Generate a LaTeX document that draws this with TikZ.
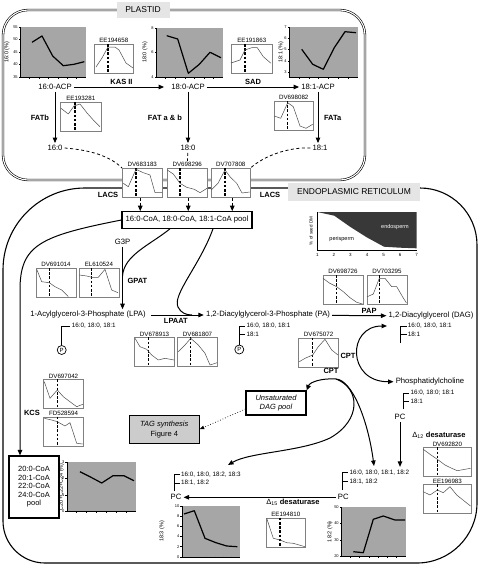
\documentclass[tikz,border=0pt]{standalone}
\usepackage{fontspec}
\setmainfont{Liberation Sans}
\usetikzlibrary{arrows.meta}

\tikzset{
  lbl/.style={font=\fontsize{7.7}{9}\selectfont, inner sep=2pt},
  enz/.style={font=\fontsize{7.5}{9}\selectfont\bfseries, inner sep=1.5pt},
  acyl/.style={font=\fontsize{6.3}{7}\selectfont, inner sep=0pt, anchor=west},
  exlbl/.style={font=\fontsize{6.2}{7}\selectfont, inner sep=1pt, anchor=south},
  exframe/.style={draw=black!50, line width=0.5pt, fill=white, inner sep=0pt, anchor=north west, minimum height=29pt},
  exdash/.style={line width=1.1pt, dash pattern=on 2.6pt off 1.6pt},
  excurve/.style={black!70, line width=0.5pt, line join=round},
  chartfill/.style={fill=black!35},
  chartline/.style={line width=1.2pt, line join=round},
  ticklbl/.style={font=\fontsize{4}{4}\selectfont, inner sep=0.6pt},
  ylbl/.style={font=\fontsize{5.5}{6}\selectfont, inner sep=0pt, rotate=90},
  conn/.style={line width=1pt},
  arr/.style={conn, -{Triangle[length=5.5pt,width=4.5pt]}},
  dasharr/.style={arr, dash pattern=on 3pt off 2pt},
  dashlink/.style={line width=0.8pt, dash pattern=on 3pt off 2.5pt},
  poolbox/.style={draw, line width=1.1pt, fill=white, inner sep=0pt, font=\fontsize{7.7}{9}\selectfont},
  labelbox/.style={fill=black!10, inner sep=0pt, font=\fontsize{8.5}{10}\selectfont},
  acylline/.style={line width=0.9pt},
  pcirc/.style={draw, circle, line width=0.7pt, minimum size=9pt, inner sep=0pt, font=\fontsize{6}{6}\selectfont},
  plastid/.style={double, double distance=1.1pt, line width=0.6pt},
  erline/.style={line width=1.1pt},
}

\newcommand{\exprbox}[7]{% name, x, y, width, label, dash x, profile
  \node[exframe, minimum width=#4pt] (#1) at (#2,#3) {};
  \node[exlbl] (#1-l) at (#1.north) {#5};
  \draw[exdash] (#6,#3) -- (#6,#3+29);
  \draw[excurve] plot coordinates {#7};
}

\newcommand{\greychart}[9]{% name, x, y, w, h, y label, label x, ticks, profile
  \fill[chartfill] (#2,#3) rectangle ++(#4,#5);
  \draw[line width=0.4pt] (#2,#3) -- (#2,#3+#5) -- (#2+#4,#3+#5);
  \foreach \v/\ty in {#8}
    \draw[line width=0.4pt] (#2,\ty) -- ++(-1.5,0) node[ticklbl, anchor=east] {\v};
  \foreach \i in {1,...,6}
    \draw[line width=0.4pt] (#2+\i*#4/7,#3+#5) -- ++(0,1.5);
  \draw[chartline] plot coordinates {#9};
  \node[ylbl] (#1) at (#7,#3+#5/2) {#6};
}

\newcommand{\acyl}[6]{% name, x, top y, bottom y, first chain, second chain
  \coordinate (#1) at (#2,#3);
  \draw[acylline] (#2,#4) -- (#2,#3) -- ++(6,0);
  \node[acyl] (#1-a) at (#2+7,#3) {#5};
  \draw[acylline] (#2,#3+8.5) -- ++(6,0);
  \node[acyl] (#1-b) at (#2+7,#3+8.5) {#6};
}

\begin{document}
\begin{tikzpicture}[x=1pt,y=-1pt]
\useasboundingbox (0,0) rectangle (479,565);

% compartments
\draw[plastid, rounded corners=25pt] (3,10) rectangle (365,180);
\draw[erline] (130,188) -- (420,188) .. controls (451.5,188) and (477,213.5) .. (477,245)
  -- (477,503) .. controls (477,536.1) and (450.1,563) .. (417,563)
  -- (45,563) .. controls (21.8,563) and (3,544.2) .. (3,521)
  -- (3,270) .. controls (3,224.7) and (39.7,188) .. (85,188) -- (130,188);
\node[labelbox, minimum width=53pt, minimum height=16pt] (plastidlbl) at (143,10) {PLASTID};
\node[labelbox, minimum width=132pt, minimum height=18pt] (erlbl) at (354,192) {ENDOPLASMIC RETICULUM};

% plastid
\greychart{c160}{20}{27}{66}{50}{16:0 (\%)}{7}{55/27,50/39.5,45/52,40/64.5,35/77}{(32,42.3) (42,36) (52.7,56) (63.3,65.7) (74,64.3) (84.3,61.7)}
\greychart{c180}{156}{28}{67}{49}{18:0 (\%)}{145}{8/28,6/52.5,4/77}{(166.7,35.7) (177.7,39) (188.3,73.3) (199.3,64.3) (210,52.3) (221,57.7)}
\greychart{c181}{289}{27}{69}{50}{18:1 (\%)}{281}{7/27.3,6/38.3,5/49.3,4/60.7,3/71.7}{(301.7,49.3) (312.7,64.3) (323.3,69.3) (334.3,47.7) (345,31.7) (356,32.7)}

\exprbox{ee194658}{94}{44}{39}{EE194658}{108}{(96,67) (102,58) (108,47) (115,47) (119,50) (126,63) (133,68)}
\exprbox{ee191863}{231}{44}{41}{EE191863}{245}{(231,63) (240,60) (245,50) (251.7,47.7) (257.3,47.7) (263.3,56.7) (271,63.3)}
\exprbox{ee193281}{60}{102}{41}{EE193281}{75}{(61,108.3) (68.3,114) (74,106) (80,104) (87.3,113.3) (93.3,120) (100,126.7)}
\exprbox{dv698082}{274}{101}{39}{DV698082}{287.7}{(274.3,116) (280.7,118.3) (287.7,102.7) (293.3,106.7) (300,126) (306,128.3) (312.7,124.3)}

\node[lbl] (acp160) at (55,87) {16:0-ACP};
\node[lbl] (acp180) at (188,87) {18:0-ACP};
\node[lbl] (acp181) at (318,87) {18:1-ACP};
\node[lbl] (ffa160) at (55,148) {16:0};
\node[lbl] (ffa180) at (188,148) {18:0};
\node[lbl] (ffa181) at (320,148) {18:1};

\draw[arr, shorten >=5pt] (acp160) -- (acp180) node[enz, midway, above] (kas) {KAS II};
\draw[arr] (acp180) -- (acp181) node[enz, midway, above] (sad) {SAD};
\draw[arr] (acp160) -- (acp160 |- ffa160.north) node[enz, midway, left=4pt] (fatb) {FATb};
\draw[arr] (acp180) -- (acp180 |- ffa180.north) node[enz, midway, left=4pt] (fatab) {FAT a \& b};
\draw[arr] (acp181) -- (acp181 |- ffa181.north) node[enz, midway, right=4pt] (fata) {FATa};

% export to the ER
\exprbox{dv683183}{122}{168}{40}{DV683183}{136}{(123.3,183.3) (128.3,186.7) (136,169.3) (143.3,172.7) (150,175) (155,192.7) (162,192.7)}
\exprbox{dv698296}{167}{168}{40}{DV698296}{180}{(167.3,170) (173.3,174) (180,183.3) (186.7,187.3) (194.3,189.3) (200,192.7) (207,188.3)}
\exprbox{dv707808}{211}{168}{39}{DV707808}{225}{(211.3,190) (218,183.3) (225,170) (230,176.7) (236.7,183.3) (242,193) (249.7,192)}

\draw[dashlink] (ffa160.east) .. controls (90,150) and (110,156) .. (dv683183.north west);
\draw[dashlink] (ffa180) -- (dv698296-l);
\draw[dashlink] (ffa181.west) .. controls (290,147) and (265,155) .. (dv707808.north east);

\node[enz] (lacs1) at (108,195) {LACS};
\node[enz] (lacs2) at (270,195) {LACS};

\node[poolbox, minimum width=130pt, minimum height=16.5pt] (pool) at (187,220) {16:0-CoA, 18:0-CoA, 18:1-CoA pool};
\draw[dasharr] ([xshift=-2pt]dv683183.south) -- ([xshift=-2pt]dv683183.south |- pool.north);
\draw[dasharr] ([xshift=1pt]dv698296.south) -- ([xshift=1pt]dv698296.south |- pool.north);
\draw[dasharr] ([xshift=1.5pt]dv707808.south) -- ([xshift=1.5pt]dv707808.south |- pool.north);

% seed development
\fill[black!78] (317.3,212) -- (334.3,215.7) -- (350,226.7) -- (366.7,237.3) -- (384,246.7) -- (400,247.7) -- (416.7,248.3) -- (416.7,212) -- cycle;
\draw[line width=0.4pt] (317.3,212) -- (317.3,250) -- (416.7,250);
\foreach \d [count=\i from 0] in {1,...,7}
  \node[font=\fontsize{4.5}{5}\selectfont, inner sep=0pt] (ax\d) at (317.3+\i*16.57,254.5) {\d};
\node[ylbl, font=\fontsize{4.5}{5}\selectfont] (dmlbl) at (311,231) {\% of seed DM};
\node[font=\fontsize{5.5}{6}\selectfont, text=white, inner sep=0pt] (endolbl) at (395,227) {endosperm};
\node[font=\fontsize{5.5}{6}\selectfont, inner sep=0pt] (perilbl) at (341.7,239) {perisperm};

% Kennedy pathway
\node[lbl] (g3p) at (122.5,242) {G3P};
\node[lbl] (lpa) at (88,315) {1-Acylglycerol-3-Phosphate (LPA)};
\node[lbl] (pa) at (268,315) {1,2-Diacylglycerol-3-Phosphate (PA)};
\node[lbl] (dag) at (431,316) {1,2-Diacylglycerol (DAG)};
\node[lbl] (pc) at (430,381.7) {Phosphatidylcholine};

\coordinate (gj) at (122.5,276);
\coordinate (lj) at (192,315);
\draw[arr] (g3p) -- (g3p |- lpa.north) node[enz, pos=0.55, right=3pt] (gpat) {GPAT};
\draw[conn] ([xshift=-17pt]pool.south) .. controls (150,245) and (124,255) .. (gj);
\draw[arr, shorten <=3pt] (lpa) -- (pa) node[enz, midway, below=1pt] (lpaat) {LPAAT};
\draw[conn] ([xshift=26pt]pool.south) .. controls (200,265) and (172,295) .. (178,307) .. controls (181,313) and (186,315) .. (lj);
\draw[arr] (pa) -- (dag) node[enz, pos=0.68, above=0pt] (pap) {PAP};

\exprbox{dv691014}{35.7}{268}{40}{DV691014}{49.3}{(36.7,269.3) (41.7,281.7) (49.3,282.7) (55,286.7) (61.7,290) (68.3,296.5)}
\exprbox{el610524}{78.7}{268}{40}{EL610524}{91.7}{(79.3,275) (86.7,276) (91.7,277.3) (98.3,277.3) (105,269.3) (111.7,290) (118,292.7)}
\exprbox{dv698726}{322.7}{275}{40}{DV698726}{336.7}{(323,278.3) (329.3,283) (336.7,286.7) (343.3,291.7) (350,297.7) (356.7,302.3) (362.5,304)}
\exprbox{dv703295}{366.7}{275}{40}{DV703295}{379.3}{(367.3,296.7) (373.3,294) (379.3,278.3) (385,278.3) (391.7,286.7) (396.7,286.7) (403.3,298) (406.5,303)}
\exprbox{dv678913}{134.3}{337.3}{40}{DV678913}{148.3}{(135,338.3) (140,346.7) (146.7,349.3) (151.7,355) (158.3,360) (165,358.3) (174,360)}
\exprbox{dv681807}{177.3}{337.3}{40}{DV681807}{190.7}{(178.3,351.7) (185,345) (190.7,338.3) (198.3,345) (205,353.3) (210,365) (217,362.7)}
\exprbox{dv675072}{298.3}{337.7}{40}{DV675072}{312.7}{(299.3,361.7) (305,358.3) (312.7,355) (318.3,346.7) (325,339.3) (331.7,350) (338,355)}

% acyl chains
\node[pcirc] (lpap) at (61.7,350) {P};
\draw[acylline] (lpap) -- (61.7,326) -- ++(8,0);
\node[acyl] (lpafa) at (71.7,326) {16:0, 18:0, 18:1};
\node[pcirc] (pap-c) at (239.3,349.5) {P};
\acyl{paF}{239.3}{326}{345}{16:0, 18:0, 18:1}{18:1}
\acyl{dagF}{400.7}{326}{343}{16:0, 18:0, 18:1}{18:1}
\acyl{pc1F}{403.3}{393}{409}{16:0, 18:0; 18:1}{18:1}
\acyl{pc2F}{342.3}{472.7}{490}{16:0, 18:0, 18:1, 18:2}{18:1, 18:2}
\acyl{pc3F}{174}{474.5}{491}{16:0, 18:0, 18:2, 18:3}{18:1, 18:2}
\node[lbl] (pc1) at (400,417) {PC};
\node[lbl] (pc2) at (343.3,497.3) {PC};
\node[lbl] (pc3) at (176,497.3) {PC};

% CPT
\coordinate (cptin) at (387,326);
\coordinate (crest) at (336,379);
\coordinate (pc2in) at (374,466);
\coordinate (pc3in) at (228,465);
\draw[conn, {Triangle[length=5.5pt,width=4.5pt]}-{Triangle[length=5.5pt,width=4.5pt]}] (cptin) .. controls (347,326) and (347,382) .. (pc.west);
\node[enz] (cpt1) at (348,356) {CPT};
\node[enz] (cpt2) at (331,371) {CPT};
\node[poolbox, minimum width=60pt, minimum height=24pt, align=center, font=\fontsize{7.5}{9}\selectfont\itshape] (dagpool) at (276,403) {Unsaturated\\DAG pool};
\node[draw, line width=0.9pt, fill=black!20, minimum width=70pt, minimum height=28pt, align=center, inner sep=0pt, font=\fontsize{7.5}{10}\selectfont] (tag) at (164.3,429.2) {\textit{TAG synthesis}\\Figure 4};
\draw[conn, {Triangle[length=5.5pt,width=4.5pt]}-{Triangle[length=5.5pt,width=4.5pt]}] (dagpool.north east) .. controls (310,382) and (322,378) .. (crest) .. controls (352,380) and (368,420) .. (pc2in);
\draw[arr] (crest) .. controls (360,388) and (362,420) .. (330,438) .. controls (300,452) and (250,452) .. (pc3in);
\draw[line width=0.7pt, dotted, -{Triangle[length=4.5pt,width=3.5pt]}] ([yshift=-6pt]dagpool.west) -- (tag.east);

% desaturases
\draw[arr, shorten >=3pt] (pc1) -- (pc1 |- pc2F-a.north);
\node[enz] (d12) at (439,435) {{\mdseries Δ\textsubscript{12}} desaturase};
\exprbox{dv692820}{423.3}{447.3}{47.7}{DV692820}{437.3}{(423.3,449.3) (430,454.3) (437.3,459.3) (445,465) (451.7,468.3) (457.3,470.7) (470.5,468.3)}
\exprbox{ee196983}{423.3}{484.3}{47.7}{EE196983}{437.3}{(423.3,491.7) (430,495) (437.3,490) (443.3,492.7) (450,486.7) (456.7,495) (470.5,506)}
\draw[arr] (pc2) -- (pc3);
\node[enz] (d15) at (293,502) {{\mdseries Δ\textsubscript{15}} desaturase};
\exprbox{ee194810}{266}{517.7}{39}{EE194810}{280}{(266.7,518.3) (273.3,538.3) (280,540) (286.7,542.7) (293.3,543.3) (305,546.7)}
\greychart{c182}{341}{507.3}{64.7}{48.7}{18:2 (\%)}{330}{50/507.3,40/523.5,30/539.8,20/556}{(353.3,551.7) (363.3,552.7) (373.3,519.3) (383.3,516) (395,520) (405,520)}
\greychart{c183}{181.7}{506}{58.3}{50.7}{18:3 (\%)}{162}{10/506,8/516.1,6/526.3,4/536.4,2/546.6,0/556.7}{(184,514) (194.3,510.7) (205,538.3) (216,542.7) (226.7,546) (237.3,546.7)}

% elongation
\node[enz] (kcs) at (32,413) {KCS};
\exprbox{dv697042}{43.3}{379.3}{40}{DV697042}{57.3}{(44.3,381.7) (50,398.3) (57.3,390) (63.3,396.7) (70,401.7) (76.7,406.7) (82.7,404.3)}
\exprbox{fd528594}{43.3}{416.7}{40}{FD528594}{57.3}{(44.3,418.3) (51.7,420) (57.3,421.7) (65,426) (70,422.7) (76.7,443.3) (82.7,444)}
\node[poolbox, minimum width=50pt, minimum height=62pt, align=center, font=\fontsize{7.5}{8.5}\selectfont] (lcpool) at (34,487) {20:0-CoA\\20:1-CoA\\22:0-CoA\\24:0-CoA\\pool};
\coordinate (kcsbend) at (20,290);
\draw[arr] (pool.west) .. controls (40,236) and (20,245) .. (kcsbend) -- (kcsbend |- lcpool.north);
\greychart{c20}{66.7}{462.3}{69.3}{48.7}{C20+C22+C24 (\%)}{61.5}{3/462.3,2/478.5,1/494.7,0/511}{(80,471.7) (90.5,477) (101.7,483) (113,475.7) (124,475.7) (134,480.7)}
\end{tikzpicture}
\end{document}
